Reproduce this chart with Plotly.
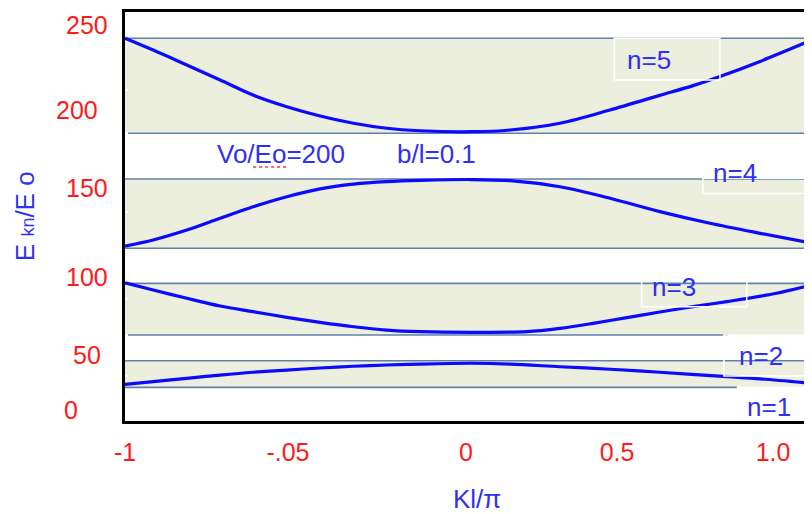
import plotly.graph_objects as go

# ---------------- data ----------------
# band edges (E/Eo), top band first
band_lo = [182.9, 109.8, 54.7, 21.4]
band_hi = [243.3, 153.8, 87.5, 38.3]
band_lo_end = [1.0, 1.0, 0.756, 0.781]   # where the lower edge line stops (Kl/pi)
band_hi_end = [1.0, 1.0, 1.0, 1.0]

# dispersion curves (Kl/pi, E/Eo)
k5 = [-1.0, -0.918, -0.820, -0.723, -0.627, -0.529, -0.432, -0.335, -0.238, -0.141,
      0.010, 0.121, 0.266, 0.412, 0.557, 0.654, 0.732, 0.849, 1.0]
e5 = [243.3, 235.8, 226.3, 216.8, 207.2, 199.8, 193.9, 189.3, 186.1, 184.5,
      183.9, 185.0, 189.3, 197.7, 207.0, 213.2, 219.0, 228.6, 242.2]

k4 = [-1.0, -0.918, -0.820, -0.723, -0.627, -0.529, -0.432, -0.335, -0.238, -0.141,
      0.010, 0.121, 0.266, 0.412, 0.557, 0.703, 0.849, 1.0]
e4 = [111.2, 115.1, 121.4, 128.9, 136.2, 142.6, 147.6, 150.6, 152.2, 153.0,
      153.5, 152.8, 148.9, 141.6, 133.1, 125.7, 119.3, 113.0]

k3 = [-1.0, -0.918, -0.820, -0.723, -0.627, -0.529, -0.432, -0.335, -0.238, -0.141,
      0.010, 0.169, 0.266, 0.363, 0.461, 0.557, 0.654, 0.752, 0.897, 1.0]
e3 = [87.9, 83.3, 78.0, 73.1, 69.5, 65.9, 62.7, 59.9, 57.8, 56.8,
      56.4, 56.8, 58.9, 62.1, 65.7, 69.3, 72.7, 75.9, 81.2, 86.5]

k2 = [-1.0, -0.918, -0.820, -0.723, -0.627, -0.529, -0.432, -0.335, -0.238, -0.141,
      0.010, 0.121, 0.266, 0.412, 0.557, 0.752, 0.849, 1.0]
e2 = [23.3, 25.0, 27.1, 29.2, 31.0, 32.4, 33.7, 34.8, 35.6, 36.2,
      36.7, 36.2, 34.5, 32.9, 31.0, 28.2, 26.8, 24.0]

# axis labels
xtick_vals = [-1.0, -0.5255, -0.0073, 0.4323, 0.8865]
xtick_text = ["-1", "-.05", "0", "0.5", "1.0"]
ytick_vals = [251.7, 197.7, 148.1, 91.5, 42.0, 7.0]
ytick_text = ["250", "200", "150", "100", "50", "0"]
ytick_shift = [-15, -25, -15, -15, -22, -45]
notch_vals = [210.4, 182.9, 159.6, 132.9, 77.6, 54.7, 28.6]

# band labels: text position and box (Kl/pi, E/Eo)
lab_text = ["n=5", "n=4", "n=3", "n=2", "n=1"]
lab_x = [0.526, 0.776, 0.599, 0.8515, 0.8748]
lab_y = [229.5, 157.5, 85.4, 41.3, 8.9]
box_x0 = [0.4245, 0.682, 0.504, 0.7435, 0.785]
box_x1 = [0.732, 0.988, 0.810, 1.2, 1.2]
box_y0 = [216.8, 144.7, 72.7, 28.6, -3.0]
box_y1 = [243.3, 154.3, 89.6, 54.7, 21.4]

# parameter texts
par_text = ["Vo/Eo=200", "b/l=0.1"]
par_x = [-0.546, -0.0946]
par_y = [170.0, 170.0]

BLUE_TXT = "#2f2ff5"
RED = "#ff1a1a"
FILL = "#eceede"
EDGE = "#5f82a8"
FONT = "Liberation Sans, Arial, sans-serif"

fig = go.Figure()

# band fills
for lo, hi in zip(band_lo, band_hi):
    fig.add_trace(go.Scatter(x=[-1, 1, 1, -1, -1], y=[lo, lo, hi, hi, lo],
                             fill="toself", fillcolor=FILL, mode="none",
                             hoverinfo="skip", showlegend=False))
# band edge lines
for lo, hi, le, he in zip(band_lo, band_hi, band_lo_end, band_hi_end):
    fig.add_trace(go.Scatter(x=[-1, le], y=[lo, lo], mode="lines",
                             line=dict(color=EDGE, width=1.6), showlegend=False, hoverinfo="skip"))
    fig.add_trace(go.Scatter(x=[-1, he], y=[hi, hi], mode="lines",
                             line=dict(color=EDGE, width=1.6), showlegend=False, hoverinfo="skip"))

# dispersion curves
for kk, ee in [(k5, e5), (k4, e4), (k3, e3), (k2, e2)]:
    fig.add_trace(go.Scatter(x=kk, y=ee, mode="lines",
                             line=dict(color="#0a0aff", width=3.2, shape="spline", smoothing=0.9),
                             showlegend=False))

# label boxes (white outlines)
for x0, x1, y0, y1 in zip(box_x0, box_x1, box_y0, box_y1):
    fig.add_shape(type="rect", xref="x", yref="y", x0=x0, x1=x1, y0=y0, y1=y1,
                  line=dict(color="white", width=1.5), fillcolor="rgba(0,0,0,0)", layer="above")

# red spell-check underline below "Eo"
fig.add_shape(type="line", xref="x", yref="y",
              x0=par_x[0] - 0.081, x1=par_x[0] + 0.018, y0=par_y[0] - 8.5, y1=par_y[0] - 8.5,
              line=dict(color="#ff3030", width=1.5, dash="dot"), layer="above")

annotations = []
for t, x, y in zip(lab_text, lab_x, lab_y):
    annotations.append(dict(x=x, y=y, xref="x", yref="y", text=t, showarrow=False,
                            xanchor="center", yanchor="middle",
                            font=dict(family=FONT, size=26, color=BLUE_TXT)))
for v, t, s in zip(ytick_vals, ytick_text, ytick_shift):
    annotations.append(dict(x=0, y=v, xref="paper", yref="y", text=t, showarrow=False,
                            xanchor="right", yanchor="middle", xshift=s,
                            font=dict(family=FONT, size=25, color=RED)))
for t, x, y in zip(par_text, par_x, par_y):
    annotations.append(dict(x=x, y=y, xref="x", yref="y", text=t, showarrow=False,
                            xanchor="center", yanchor="middle",
                            font=dict(family=FONT, size=26, color=BLUE_TXT)))
annotations += [
    dict(x=-0.146, y=0.5, xref="paper", yref="paper", textangle=-90,
         text="E <span style='font-size:18px'>kn</span>/E o", showarrow=False,
         xanchor="center", yanchor="middle", font=dict(family=FONT, size=26, color=BLUE_TXT)),
    dict(x=0.513, y=-0.19, xref="paper", yref="paper", text="Kl/π", showarrow=False,
         xanchor="center", yanchor="middle", font=dict(family=FONT, size=26, color=BLUE_TXT)),
]

fig.update_layout(
    width=804, height=506,
    margin=dict(l=117, r=0, t=4, b=93),
    plot_bgcolor="white", paper_bgcolor="white",
    annotations=annotations,
    showlegend=False,
)
fig.update_xaxes(range=[-1, 1], showgrid=False, zeroline=False,
                 showline=True, linecolor="black", linewidth=3, mirror=True,
                 tickmode="array", tickvals=xtick_vals, ticktext=xtick_text,
                 ticks="", ticklabelstandoff=7,
                 tickfont=dict(family=FONT, size=25, color=RED))
fig.update_yaxes(range=[0, 260], showgrid=False, zeroline=False,
                 showline=True, linecolor="black", linewidth=3, mirror=False,
                 tickmode="array", tickvals=notch_vals, ticktext=[""] * len(notch_vals),
                 ticks="inside", ticklen=3, tickcolor="white", tickwidth=1.5)

fig.write_html("out.html")
